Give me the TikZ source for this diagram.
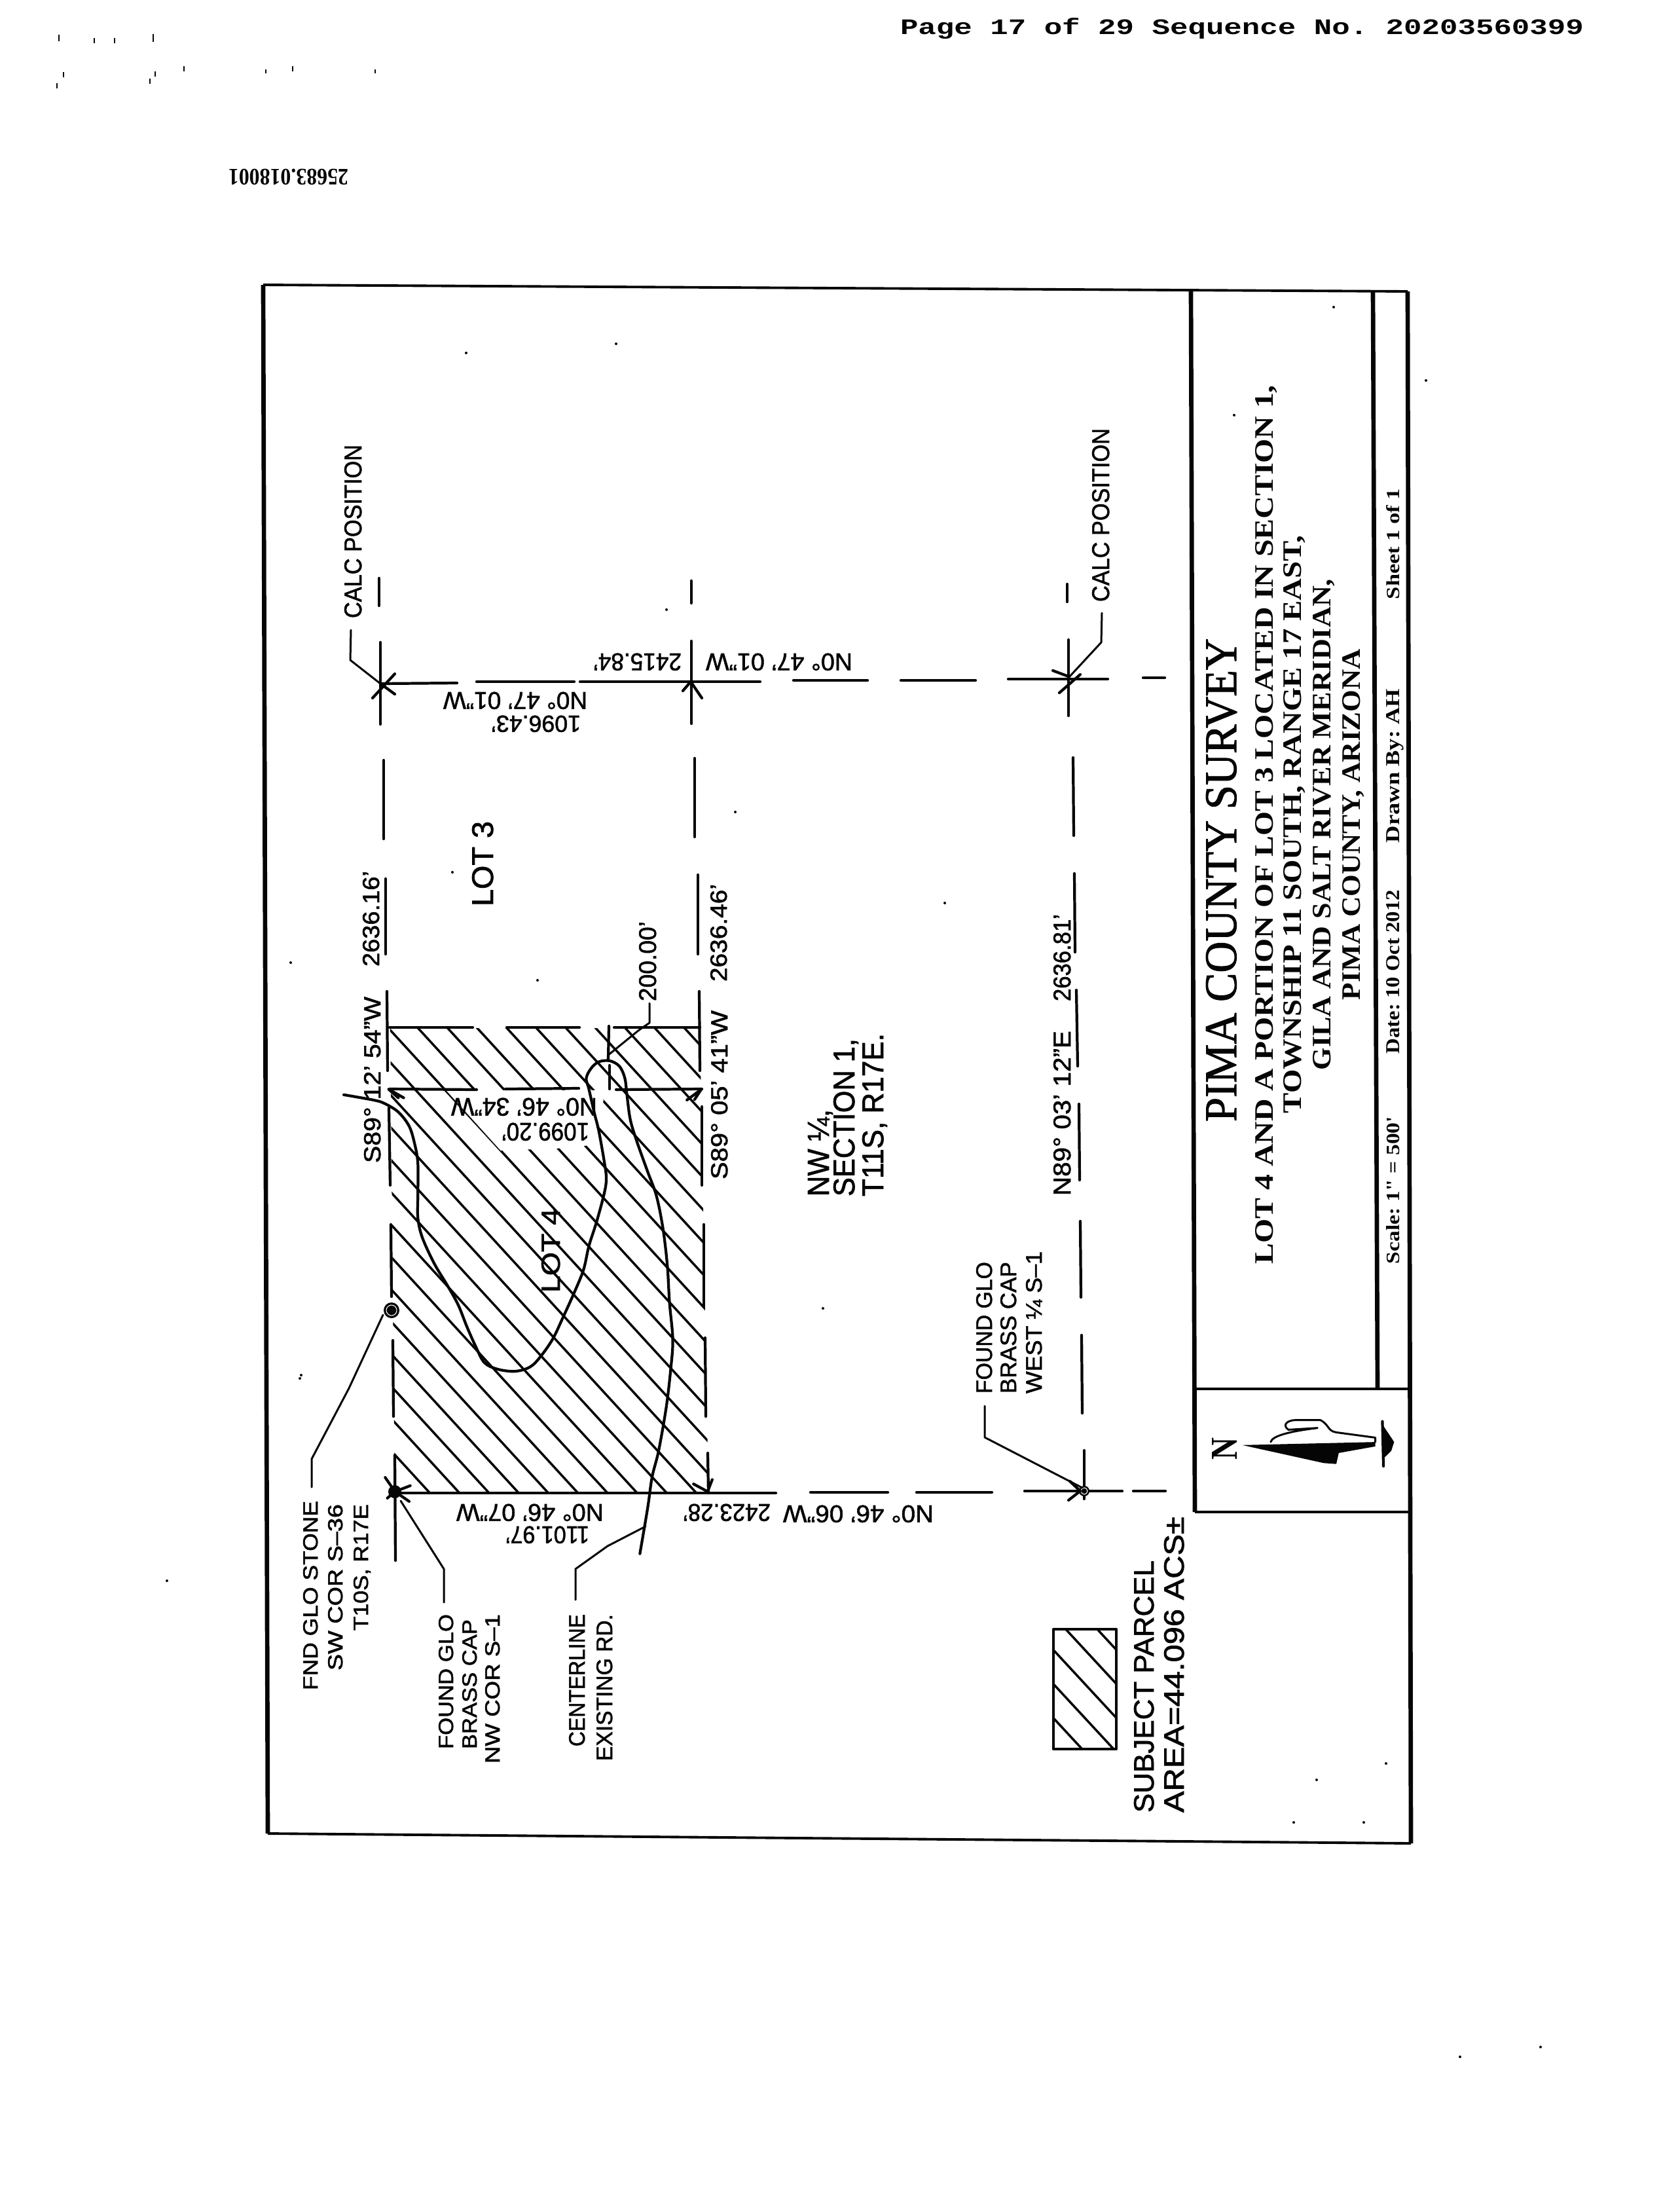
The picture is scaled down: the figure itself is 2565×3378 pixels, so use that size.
\documentclass[tikz,border=0pt]{standalone}
\usepackage{graphicx}
\usepackage{fontspec}
\setmainfont{Liberation Sans}[FakeBold=1.6]
\newfontfamily\srf{Liberation Serif}
\newfontfamily\srfh{Liberation Serif}[FakeBold=1.4]
\newfontfamily\mon{Liberation Mono}
\newdimen\pxu \pxu=0.01cm
\definecolor{inkc}{RGB}{5,5,5}
\tikzset{
  txt/.style={inner sep=0pt,outer sep=0pt,anchor=base west,text=inkc},
  ln/.style={draw=inkc,line width=1.2pt,line cap=round,line join=round},
  thinln/.style={draw=inkc,line width=0.85pt,line cap=round,line join=round},
  hatchln/.style={draw=inkc,line width=1pt},
  frameln/.style={draw=inkc,line width=1.1pt},
  heavyln/.style={draw=inkc,line width=1.9pt},
  zseven/.style={shift={(570,1560)},x=0.003333cm,y=-0.003333cm},
  zthree/.style={shift={(1350,1800)},x=0.00542cm,y=-0.0067cm}
}
\newcommand\rt[7]{\node[txt,rotate=#4] (#1) at (#2,#3) {\resizebox{#5\pxu}{#6\pxu}{\frenchspacing #7}};}
\newcommand\spk[3]{\fill[inkc] (#1,#2) circle (#3\pxu);}
\begin{document}
\begin{tikzpicture}[x=0.01cm,y=-0.01cm]
\fill[white] (0,0) rectangle (2565,3378);
\useasboundingbox (0,0) rectangle (2565,3378);

% page header and scan marks
\rt{hdr}{1375}{52}{0}{1044}{25}{\mon\bfseries Page 17 of 29 Sequence No. 20203560399}
\rt{ref}{532}{258}{180}{183}{24}{\srf\bfseries 25683.018001}
\foreach \a/\b/\h in {90/58/5,144/62/4,175/62/4,234/58/6,97/114/4,237/113/4,281/105/4,406/109/3,447/105/4,573/109/3,229/124/4,87/131/4}
  {\draw[inkc,line width=0.7pt] (\a,\b-\h) -- (\a,\b+\h);}
\foreach \a/\b in {941/525,712/539,1018/931,821/1497,691/1332,444/1470,1123/1240,460/2100,1257/1998,1443/1379,2037/469,1885/634,2178/581,1976/2783,2083/2783,2011/2718,2117/2693,2230/3141,2353/3126,458/2105,255/2414}
  {\spk{\a}{\b}{2}}

% sheet frame and title block
\draw[heavyln] (402,435) -- (409,2800);
\draw[frameln] (402,435) -- (2150,445);
\draw[frameln] (409,2800) -- (2155,2815);
\draw[heavyln] (2150,445) -- (2155,2815);
\draw[heavyln] (1819,443) -- (1825,2309);
\draw[heavyln] (2097,445) -- (2104,2121);
\draw[frameln] (1824,2121) -- (2154,2121);
\draw[frameln] (1825,2309) -- (2155,2309);

% title block text
\rt{t1}{1888}{1713}{90}{738}{46}{\srfh PIMA COUNTY SURVEY}
\rt{t2}{1944}{1930}{90}{1342}{27}{\srf\bfseries LOT 4 AND A PORTION OF LOT 3 LOCATED IN SECTION 1,}
\rt{t3}{1987}{1700}{90}{882}{27}{\srf\bfseries TOWNSHIP 11 SOUTH, RANGE 17 EAST,}
\rt{t4}{2032}{1634}{90}{750}{27}{\srf\bfseries GILA AND SALT RIVER MERIDIAN,}
\rt{t5}{2077}{1527}{90}{536}{27}{\srf\bfseries PIMA COUNTY, ARIZONA}
\rt{b1}{2137}{1930}{90}{225}{20}{\srf\bfseries Scale: 1" = 500'}
\rt{b2}{2137}{1609}{90}{250}{20}{\srf\bfseries Date: 10 Oct 2012}
\rt{b3}{2137}{1287}{90}{235}{20}{\srf\bfseries Drawn By: AH}
\rt{b4}{2137}{915}{90}{169}{20}{\srf\bfseries Sheet 1 of 1}

% north arrow
\rt{nn}{1889}{2229}{90}{34}{38}{\srf\bfseries N}
\begin{scope}[zthree]
  \fill[inkc] (1010,607) -- (1385,600) -- (1385,610) -- (1282,625) -- (1275,650) -- (1240,648) -- cycle;
  \draw[thinln] (1090,600) .. controls (1095,585) and (1150,575) .. (1222,568) -- (1140,572) .. controls (1120,560) and (1140,550) .. (1160,550) -- (1230,550) .. controls (1255,560) and (1250,575) .. (1275,578) -- (1385,590) -- (1385,600);
  \draw[ln] (1405,553) -- (1408,655);
  \fill[inkc] (1405,560) -- (1430,590) -- (1438,600) -- (1430,620) -- (1405,640) -- cycle;
\end{scope}

% hatching of the subject parcel
\begin{scope}
  \clip (596,1570) -- (1069,1570) -- (1082,2280) -- (603,2280) -- cycle;
  \foreach \k in {-10,...,13} {
    \pgfmathsetmacro\ca{923.4+49.3*\k}
    \draw[hatchln] (500,500*1.09+\ca) -- (1200,1200*1.09+\ca);
  }
\end{scope}
% the block that keeps the bearing text clear of hatching
\begin{scope}[zseven]
  \fill[white] (335,316) -- (1045,316) -- (1057,362) -- (1027,478) -- (982,569) -- (850,582) -- (716,587) -- (585,592) -- cycle;
\end{scope}

% parcel boundary, north to south lines
\foreach \a/\b/\c/\d in {579/883/579/925, 581/981/581/1106, 586/1161/586/1281, 589/1342/589/1457, 591/1514/592/1635, 594/1692/596/1810, 597/1870/598/1980, 600/2047/601/2163, 603/2222/604/2383,
  1056/887/1056/921, 1056/979/1056/1105, 1061/1158/1061/1278, 1066/1336/1066/1457, 1068/1514/1069/1635, 1072/1690/1072/1810, 1075/1870/1075/1995, 1077/2043/1078/2163, 1081/2219/1082/2280,
  1630/892/1630/919, 1632/977/1632/1093, 1639/1157/1640/1276, 1641/1334/1642/1454, 1644/1512/1646/1628, 1648/1686/1649/1802, 1650/1865/1651/1981, 1652/2039/1653/2158, 1656/2215/1656/2289}
  {\draw[ln] (\a,\b) -- (\c,\d);}
% east to west lines
\foreach \a/\b/\c/\d in {581/1044/698/1043, 728/1041/877/1041, 886/1041/1161/1041, 1212/1039/1325/1039, 1376/1039/1490/1039, 1540/1037/1692/1037, 1746/1035/1779/1035,
  595/1569/722/1569, 774/1569/885/1569, 938/1569/1069/1569,
  595/1663/728/1664, 772/1663/884/1662, 941/1664/1072/1663,
  603/2280/1185/2280, 1238/2279/1356/2279, 1400/2279/1515/2279, 1565/2277/1714/2277, 1731/2277/1780/2277}
  {\draw[ln] (\a,\b) -- (\c,\d);}
% short ticks at the east end of the hatch strip
\draw[ln] (930,1567) -- (929,1617);
\draw[ln] (931,1627) -- (931,1663);

% centre line of the road
\begin{scope}[zseven]
  \draw[ln] plot[smooth,tension=0.55] coordinates {(-135,336) (0,360) (50,375) (115,415) (165,480) (190,560) (205,650) (205,800) (205,900) (225,990) (280,1110) (340,1210) (390,1300) (430,1400) (470,1490) (510,1565) (570,1595) (650,1605) (720,1585) (770,1535) (825,1455) (870,1360) (920,1250) (965,1140) (990,1030) (1025,920) (1060,790) (1070,720) (1060,640) (1035,500) (1015,420) (990,310) (978,260) (1000,215) (1035,185) (1085,180) (1130,205) (1155,260) (1165,340) (1180,450) (1210,550) (1260,690) (1300,800) (1330,950) (1350,1120) (1360,1290) (1375,1460) (1365,1600) (1345,1770) (1310,1970) (1280,2090) (1260,2230) (1224,2442)};
  % arrow ticks on the 1099.20 line
  \draw[ln] (140,350) -- (70,310) -- (115,350);
  \draw[ln] (1440,360) -- (1505,312) -- (1475,358);
\end{scope}

% monuments and crossings
\fill[inkc] (598,2001) circle (12\pxu);
\draw[white,line width=0.3pt] (598,2001) circle (8\pxu);
\fill[inkc] (603,2278) circle (10\pxu);
\begin{scope}[shift={(570,1950)},x=0.003333cm,y=-0.003333cm]
  \draw[ln] (55,920) -- (100,985) -- (170,958);
  \draw[ln] (65,1015) -- (100,985) -- (165,1030);
  \draw[ln] (1470,950) -- (1535,985) -- (1556,930);
\end{scope}
\fill[inkc] (1656,2277) circle (8\pxu);
\draw[white,line width=0.3pt] (1656,2277) circle (5\pxu);
\draw[ln] (569,1066) -- (603,1029);
\draw[ln] (581,1044) -- (603,1060);
\draw[ln] (1043,1055) -- (1055,1041) -- (1072,1066);
\draw[ln] (1618,1058) -- (1650,1030);
\draw[ln] (1608,1024) -- (1632,1033);
\draw[ln] (1634,2262) -- (1650,2277) -- (1632,2291);

% leaders
\coordinate (lc1) at (536,962);
\coordinate (lc2) at (1683,936);
\draw[thinln] (lc1) -- (535,1008) -- (581,1044);
\draw[thinln] (lc2) -- (1682,981) -- (1632,1035);
\draw[thinln] (476,2271) -- (476,2228) -- (533,2120) -- (585,2008);
\draw[thinln] (678,2447) -- (678,2396) -- (612,2292);
\draw[thinln] (879,2443) -- (879,2396) -- (928,2361) -- (986,2331);
\draw[thinln] (992,1532) -- (992,1562) -- (976,1573) -- (928,1612);
\draw[thinln] (1504,2147) -- (1504,2195) -- (1653,2272);

% labels
\rt{calc1}{552}{944}{90}{265}{26}{CALC POSITION}
\rt{calc2}{1694}{919}{90}{265}{26}{CALC POSITION}
\rt{d1}{897}{1057}{180}{220}{26}{N0° 47' 01"W}
\rt{d2}{887}{1093}{180}{137}{25}{1096.43'}
\rt{d3}{1041}{998}{180}{135}{26}{2415.84'}
\rt{d4}{1302}{998}{180}{224}{26}{N0° 47' 01"W}
\rt{s1}{581}{1776}{90}{254}{25}{S89° 12' 54"W}
\rt{s2}{579}{1476}{90}{146}{25}{2636.16'}
\rt{s3}{1111}{1801}{90}{258}{25}{S89° 05' 41"W}
\rt{s4}{1110}{1499}{90}{149}{25}{2636.46'}
\rt{lot3}{753}{1384}{90}{130}{32}{LOT 3}
\rt{lot4}{855}{1974}{90}{129}{28}{LOT 4}
\rt{twoh}{1002}{1529}{90}{122}{26}{200.00'}
\rt{d5}{912}{1677}{180}{223}{27}{N0° 46' 34"W}
\rt{d6}{900}{1715}{180}{134}{27}{1099.20'}
\rt{d7}{922}{2297}{180}{225}{26}{N0° 46' 07"W}
\rt{d8}{900}{2331}{180}{128}{26}{1101.97'}
\rt{d9}{1177}{2297}{180}{134}{26}{2423.28'}
\rt{d10}{1426}{2299}{180}{230}{26}{N0° 46' 06"W}
\rt{f1}{485}{2581}{90}{289}{22}{FND GLO STONE}
\rt{f2}{523}{2551}{90}{254}{22}{SW COR S–36}
\rt{f3}{562}{2490}{90}{193}{22}{T10S, R17E}
\rt{g1}{692}{2671}{90}{206}{22}{FOUND GLO}
\rt{g2}{728}{2671}{90}{198}{22}{BRASS CAP}
\rt{g3}{763}{2693}{90}{228}{22}{NW COR S–1}
\rt{c1}{893}{2667}{90}{202}{24}{CENTERLINE}
\rt{c2}{935}{2689}{90}{224}{24}{EXISTING RD.}
\rt{n1}{1266}{1827}{90}{133}{32}{NW ¼,}
\rt{n2}{1305}{1827}{90}{241}{32}{SECTION 1,}
\rt{n3}{1349}{1827}{90}{249}{32}{T11S, R17E.}
\rt{w1}{1515}{2128}{90}{201}{24}{FOUND GLO}
\rt{w2}{1552}{2128}{90}{201}{24}{BRASS CAP}
\rt{w3}{1591}{2128}{90}{217}{24}{WEST ¼ S–1}
\rt{e1}{1635}{1826}{90}{252}{26}{N89° 03' 12"E}
\rt{e2}{1635}{1529}{90}{133}{26}{2636.81'}
\rt{leg1}{1762}{2768}{90}{385}{30}{SUBJECT PARCEL}
\rt{leg2}{1808}{2768}{90}{452}{30}{AREA=44.096 ACS±}

% legend swatch
\draw[ln] (1609,2488) rectangle (1705,2671);
\begin{scope}
  \clip (1609,2488) rectangle (1705,2671);
  \foreach \ca in {678,730,782,834,886}
    {\draw[hatchln] (1500,1500*1.08+\ca) -- (1800,1800*1.08+\ca);}
\end{scope}
\end{tikzpicture}
\end{document}
